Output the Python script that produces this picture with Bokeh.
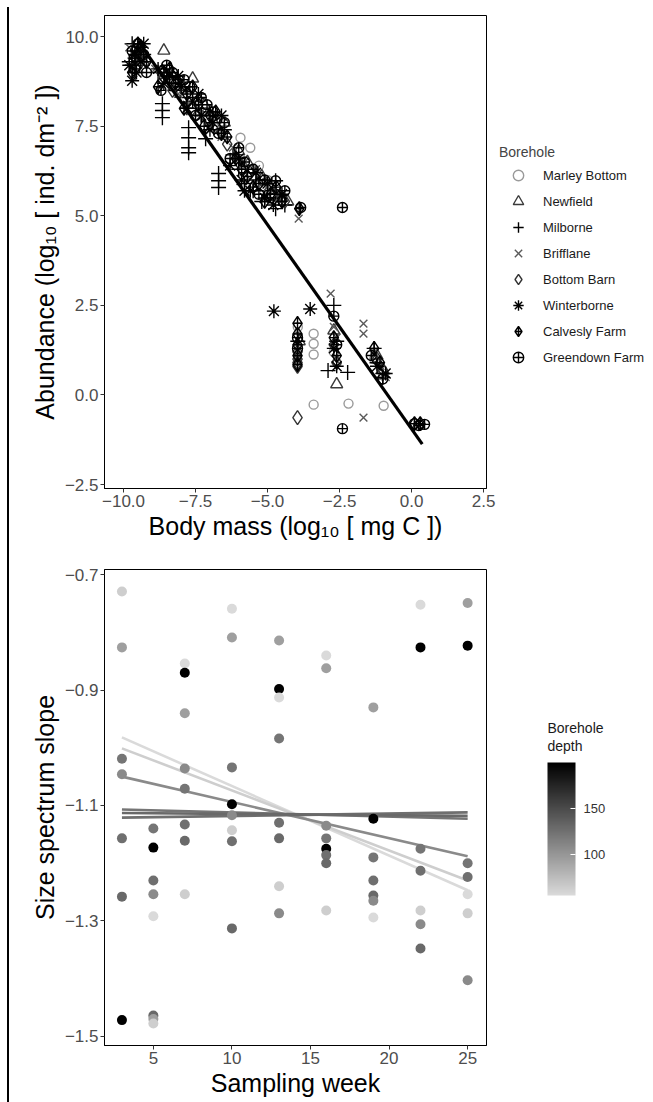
import numpy as np
from bokeh.plotting import figure
from bokeh.models import (Range1d, FixedTicker, Legend, LegendItem, ColorBar,
                          LinearColorMapper, ColumnDataSource, Div, Label)
from bokeh.layouts import column, row
from bokeh.embed import file_html
from bokeh.resources import INLINE

FONT = "Liberation Sans"

# ---------------- top panel data: body mass vs abundance per borehole ----------------
boreholes = ["Marley Bottom", "Newfield", "Milborne", "Brifflane", "Bottom Barn",
             "Winterborne", "Calvesly Farm", "Greendown Farm"]

marley_mass = [-9.6, -9.5, -8.6, -8.3, -7.9, -7.5, -7.1, -6.9, -6.6, -5.94, -5.6, -5.3, -5.0, -4.6,
               -3.95, -3.4, -3.4, -3.4, -3.4, -2.7, -2.6, -2.19, -1.3, -1.0, -0.97, 0.3]
marley_abund = [9.5, 9.2, 9.0, 8.6, 8.5, 8.2, 7.9, 7.8, 7.5, 7.18, 6.9, 6.4, 6.0, 5.6,
                1.9, 1.71, 1.43, 1.13, -0.27, 1.2, 0.9, -0.24, 1.0, 0.6, -0.30, -0.8]

newfield_mass = [-9.5, -9.3, -8.6, -8.3, -8.0, -7.6, -7.2, -6.8, -6.5, -6.0, -5.7, -5.2, -4.9, -4.5,
                 -4.3, -3.9, -2.7, -2.6, -1.2, -1.0]
newfield_abund = [9.6, 9.3, 9.61, 8.9, 8.6, 8.83, 8.1, 7.7, 7.6, 6.8, 6.5, 6.1, 5.8, 5.5,
                  5.4, 1.5, 1.8, 0.3, 1.1, 0.7]

milborne_mass = [-9.7, -9.6, -9.6, -9.5, -8.65, -8.65, -8.65, -8.4, -8.2, -7.74, -7.74, -7.74, -7.74,
                 -7.15, -7.0, -6.7, -6.7, -6.7, -6.5, -6.0, -5.8, -5.5, -5.2, -4.72, -4.72, -3.95,
                 -2.9, -2.7, -2.6, -2.22, -1.3, -1.2, -1.0, -1.0,
                 -9.8, -9.4, -9.3, -9.7, -8.8, -8.5, -8.0, -7.8, -7.5, -7.3, -6.9, -6.6, -6.2,
                 -5.7, -5.4, -5.0, -4.6, -4.4]
milborne_abund = [9.2, 9.0, 9.4, 9.6, 8.13, 7.94, 7.74, 8.7, 8.5, 7.46, 7.18, 6.9, 6.76,
                  7.15, 7.9, 6.18, 5.98, 5.79, 7.4, 6.3, 5.9, 5.7, 5.4, 5.98, 5.2, 1.5,
                  0.68, 2.5, 1.5, 0.63, 1.3, 0.9, 0.49, 0.6,
                  9.3, 9.7, 9.5, 9.8, 9.0, 8.9, 8.6, 8.3, 8.0, 7.8, 7.6, 7.3, 6.7,
                  6.2, 6.0, 5.7, 5.5, 5.3]

brifflane_mass = [-9.8, -9.5, -8.9, -8.5, -8.1, -7.8, -7.3, -7.0, -6.6, -6.2, -5.8, -5.4, -5.0, -4.6,
                  -3.92, -2.81, -2.7, -2.6, -2.65, -1.67, -1.67, -1.67, -1.3, -1.1, -0.9]
brifflane_abund = [9.7, 9.4, 9.1, 8.8, 8.4, 8.1, 7.9, 7.4, 7.2, 6.9, 6.5, 6.3, 5.8, 5.5,
                   4.92, 2.83, 1.9, 1.6, 1.0, 1.99, 1.71, -0.63, 1.2, 0.8, 0.5]

bottombarn_mass = [-9.6, -9.4, -8.7, -8.3, -7.9, -7.6, -7.1, -6.8, -6.4, -6.0, -5.6, -5.2, -4.8, -4.4,
                   -3.96, -3.96, -3.96, -3.96, -3.96, -2.7, -2.6, -1.2, -1.0]
bottombarn_abund = [9.6, 9.3, 9.0, 8.5, 8.3, 8.0, 7.7, 7.5, 7.0, 6.5, 6.2, 6.0, 5.6, 5.4,
                    1.2, 1.0, 0.9, 0.8, -0.63, 1.4, 0.9, 1.0, 0.7]

winterborne_mass = [-9.7, -9.55, -9.6, -8.8, -8.4, -8.0, -7.6, -7.3, -6.9, -6.3, -5.9, -5.6, -5.1,
                    -4.8, -4.78, -3.52, -2.7, -2.6, -1.2, -0.9,
                    -9.4, -9.8, -9.3, -8.6, -8.1, -7.8, -7.4, -7.0, -6.6, -6.0, -5.4, -5.0, -4.5,
                    -5.8]
winterborne_abund = [8.77, 9.0, 9.5, 9.1, 8.9, 8.6, 8.2, 7.8, 7.6, 6.4, 6.0, 5.7, 5.5,
                     5.3, 2.34, 2.4, 1.3, 0.8, 0.8, 0.6,
                     9.3, 9.2, 9.8, 8.7, 8.9, 8.0, 8.4, 7.4, 7.8, 6.6, 6.2, 5.9, 5.6,
                     5.7]

calvesly_mass = [-9.6, -9.4, -8.6, -8.2, -7.8, -7.4, -7.0, -6.6, -6.1, -5.7, -5.3, -4.9, -4.5, -3.9,
                 -3.96, -3.96, -3.96, -3.96, -3.96, -2.7, -2.6, -1.3, -1.1, 0.1, 0.3,
                 -9.7, -9.5, -9.2, -8.8, -8.4, -7.9, -7.6, -7.2, -6.8, -6.4, -5.9, -5.5, -5.1,
                 -4.7]
calvesly_abund = [9.4, 9.7, 9.0, 8.7, 8.4, 8.1, 7.8, 7.3, 6.6, 6.1, 5.9, 5.6, 5.4, 5.2,
                  2.0, 1.7, 1.4, 1.1, 0.85, 1.6, 1.1, 1.3, 0.9, -0.8, -0.8,
                  9.0, 9.8, 9.3, 8.6, 9.1, 8.0, 8.6, 7.5, 7.9, 7.2, 6.3, 5.8, 5.4,
                  5.8]

greendown_mass = [-9.5, -9.3, -8.5, -8.1, -7.7, -7.3, -6.9, -6.5, -6.0, -5.5, -5.1, -4.72, -3.85,
                  -2.40, -2.40, -3.96, -3.96, -2.7, -2.6, -1.0, -1.4, 0.1, 0.25, 0.45,
                  -9.7, -9.6, -9.2, -8.7, -8.3, -7.9, -7.5, -7.1, -6.7, -6.3, -5.8, -5.3, -4.9,
                  -4.4]
greendown_abund = [9.8, 9.5, 9.2, 8.8, 8.6, 8.3, 7.9, 7.6, 6.9, 6.3, 6.0, 5.98, 5.23,
                   5.23, -0.94, 1.6, 1.3, 2.2, 1.4, 0.45, 1.1, -0.8, -0.85, -0.82,
                   9.6, 9.1, 9.0, 8.5, 9.0, 8.8, 7.8, 8.1, 7.3, 6.6, 6.5, 5.6, 5.5,
                   5.7]

# fitted size-spectrum regression (intercept, slope) and the mass range it covers
fit_intercept = -0.95
fit_slope = -1.14
fit_mass_range = [-9.5, 0.37]

x_ticks_top = [-10.0, -7.5, -5.0, -2.5, 0.0, 2.5]
y_ticks_top = [-2.5, 0.0, 2.5, 5.0, 7.5, 10.0]

# ---------------- bottom panel data: slope vs sampling week ----------------
week = [3, 3, 3, 3, 3, 3, 3,
        5, 5, 5, 5, 5, 5, 5, 5,
        7, 7, 7, 7, 7, 7, 7, 7,
        10, 10, 10, 10, 10, 10, 10, 10,
        13, 13, 13, 13, 13, 13, 13, 13,
        16, 16, 16, 16, 16, 16, 16, 16,
        19, 19, 19, 19, 19, 19, 19,
        22, 22, 22, 22, 22, 22, 22,
        25, 25, 25, 25, 25, 25, 25]
slope = [-0.729, -0.826, -1.019, -1.046, -1.157, -1.258, -1.472,
         -1.140, -1.173, -1.230, -1.254, -1.292, -1.464, -1.470, -1.478,
         -0.854, -0.870, -0.940, -1.036, -1.071, -1.133, -1.161, -1.254,
         -0.759, -0.809, -1.034, -1.098, -1.117, -1.143, -1.162, -1.313,
         -0.814, -0.898, -0.913, -0.984, -1.130, -1.157, -1.240, -1.287,
         -0.840, -0.862, -1.135, -1.157, -1.175, -1.186, -1.200, -1.282,
         -0.930, -1.123, -1.190, -1.230, -1.256, -1.265, -1.294,
         -0.752, -0.826, -1.175, -1.213, -1.282, -1.306, -1.348,
         -0.749, -0.823, -1.200, -1.224, -1.254, -1.287, -1.403]
depth = [64, 94, 122, 108, 126, 130, 199,
         122, 199, 126, 108, 56, 130, 94, 64,
         56, 199, 94, 108, 122, 126, 130, 64,
         56, 94, 122, 199, 108, 64, 126, 130,
         94, 199, 56, 122, 126, 130, 64, 108,
         56, 94, 108, 122, 199, 126, 130, 64,
         94, 199, 122, 126, 130, 108, 56,
         56, 199, 122, 126, 64, 108, 130,
         94, 199, 122, 126, 56, 64, 108]

# per-borehole fitted trend lines: fitted slope value at first and last week
line_depth = [56, 64, 108, 122, 126, 130]
line_start = [-0.982, -1.001, -1.050, -1.107, -1.121, -1.113]
line_end = [-1.247, -1.230, -1.188, -1.123, -1.112, -1.118]
line_weeks = [3, 25]

x_ticks_bot = [5, 10, 15, 20, 25]
y_ticks_bot = [-1.5, -1.3, -1.1, -0.9, -0.7]
cbar_ticks = [100, 150]
depth_low, depth_high = 56, 199


def minus(s):
    return s.replace("-", "\u2212")


def style(p, xticks, yticks, xfmt, yfmt):
    p.xaxis.ticker = FixedTicker(ticks=xticks)
    p.yaxis.ticker = FixedTicker(ticks=yticks)
    p.xaxis.major_label_overrides = {t: minus(xfmt.format(t)) for t in xticks}
    p.yaxis.major_label_overrides = {t: minus(yfmt.format(t)) for t in yticks}
    p.xgrid.visible = False
    p.ygrid.visible = False
    p.outline_line_color = "black"
    p.outline_line_width = 1
    for ax in (p.xaxis[0], p.yaxis[0]):
        ax.axis_line_color = "black"
        ax.axis_line_width = 1
        ax.major_tick_line_color = "#333333"
        ax.major_tick_out = 4
        ax.major_tick_in = 0
        ax.minor_tick_line_color = None
        ax.major_label_text_font = FONT
        ax.major_label_text_font_size = "17px"
        ax.major_label_text_color = "#4D4D4D"
        ax.major_label_standoff = 2
        ax.axis_label_text_font = FONT
        ax.axis_label_text_font_size = "25px"
        ax.axis_label_text_font_style = "normal"
        ax.axis_label_text_color = "black"
    p.xaxis.axis_label_standoff = 2
    p.yaxis.axis_label_standoff = 3


def blank(width, height):
    f = figure(width=width, height=height, output_backend="svg", toolbar_location=None,
               x_axis_type=None, y_axis_type=None, x_range=Range1d(100, 101),
               y_range=Range1d(100, 101),
               min_border_left=0, min_border_right=0, min_border_top=0, min_border_bottom=0,
               background_fill_color="white", border_fill_color="white")
    f.outline_line_color = None
    return f


# ---------------- top figure ----------------
p1 = figure(width=490, height=550, output_backend="svg", toolbar_location=None,
            x_range=Range1d(-10.66, 2.6), y_range=Range1d(-2.61, 10.59),
            min_border_left=95, min_border_right=13, min_border_top=15, min_border_bottom=62,
            background_fill_color="white", border_fill_color="white")
style(p1, x_ticks_top, y_ticks_top, "{:.1f}", "{:.1f}")
p1.xaxis.axis_label = "Body mass (log\u2081\u2080 [ mg C ])"
p1.yaxis.axis_label = "Abundance (log\u2081\u2080 [ ind. dm\u207b\u00b2 ])"

series = [
    (marley_mass, marley_abund, "circle", 9, "#9a9a9a"),
    (newfield_mass, newfield_abund, "triangle", 12, "#3a3a3a"),
    (milborne_mass, milborne_abund, "cross", 15, "black"),
    (brifflane_mass, brifflane_abund, "x", 11, "#5a5a5a"),
    (bottombarn_mass, bottombarn_abund, "diamond", 14, "#333333"),
    (winterborne_mass, winterborne_abund, "asterisk", 14, "black"),
    (calvesly_mass, calvesly_abund, "diamond_cross", 14, "black"),
    (greendown_mass, greendown_abund, "circle_cross", 10, "black"),
]

# legend lives in its own small canvas beside the top panel; the key renderers
# reuse each series (their points fall outside this canvas' ranges)
leg_fig = blank(154, 550)
items = []
for name, (xs, ys, marker, size, color) in zip(boreholes, series):
    p1.scatter(xs, ys, marker=marker, size=size, line_color=color, fill_color=None,
               line_width=1.4)
    key = leg_fig.scatter(x=xs, y=ys, marker=marker, size=size, line_color=color,
                          fill_color=None, line_width=1.4)
    items.append(LegendItem(label=name, renderers=[key]))

fit_y = [fit_intercept + fit_slope * m for m in fit_mass_range]
p1.line(fit_mass_range, fit_y, line_color="black", line_width=3.2)

legend = Legend(items=items, location=(0, 180), title="Borehole",
                title_text_font=FONT, title_text_font_size="14px", title_text_font_style="normal",
                label_text_font=FONT, label_text_font_size="13px", label_text_color="#1a1a1a",
                border_line_color=None, background_fill_alpha=0,
                margin=0, padding=2, spacing=0, glyph_height=26, glyph_width=38,
                label_standoff=6, label_height=20, title_standoff=2)
leg_fig.add_layout(legend, "center")

# ---------------- bottom figure ----------------
p2 = figure(width=490, height=552, output_backend="svg", toolbar_location=None,
            x_range=Range1d(1.89, 26.2), y_range=Range1d(-1.516, -0.691),
            min_border_left=95, min_border_right=12, min_border_top=19, min_border_bottom=57,
            background_fill_color="white", border_fill_color="white")
style(p2, x_ticks_bot, y_ticks_bot, "{:g}", "{:.1f}")
p2.xaxis.axis_label = "Sampling week"
p2.yaxis.axis_label = "Size spectrum slope"

palette = ["#%02x%02x%02x" % (v, v, v) for v in np.linspace(218, 0, 256).astype(int)]
mapper = LinearColorMapper(palette=palette, low=depth_low, high=depth_high)

lines_src = ColumnDataSource(dict(xs=[line_weeks] * len(line_depth),
                                  ys=[[a, b] for a, b in zip(line_start, line_end)],
                                  depth=line_depth))
p2.multi_line("xs", "ys", source=lines_src, line_width=2.6,
              line_color={"field": "depth", "transform": mapper})

pts = ColumnDataSource(dict(week=week, slope=slope, depth=depth))
p2.scatter("week", "slope", source=pts, size=10, line_color=None,
           fill_color={"field": "depth", "transform": mapper})

# colour bar in its own small canvas beside the bottom panel
cb_fig = blank(154, 552)
cbar = ColorBar(color_mapper=mapper, ticker=FixedTicker(ticks=cbar_ticks), location=(38, 197),
                width=28, height=133, title=None,
                major_label_text_font=FONT, major_label_text_font_size="13px",
                major_label_text_color="#333333", label_standoff=8,
                major_tick_line_color="white", major_tick_in=5, major_tick_out=0,
                minor_tick_line_color=None, bar_line_color=None,
                background_fill_alpha=0, margin=0, padding=10)
cb_fig.add_layout(cbar, "center")
cb_fig.add_layout(Label(x=48, y=383, x_units="screen", y_units="screen", text="Borehole\ndepth",
                        text_font=FONT, text_font_size="14px", text_baseline="top",
                        text_align="left", text_color="#1a1a1a", text_line_height=1.15))

edge = Div(text="", width=9, height=1095, margin=(7, 0, 0, 0),
           styles={"border-right": "2px solid black", "box-sizing": "border-box"})
layout = row(edge, column(p1, p2, spacing=0), column(leg_fig, cb_fig, spacing=0), spacing=0)

open("out.html", "w").write(file_html(layout, INLINE))
